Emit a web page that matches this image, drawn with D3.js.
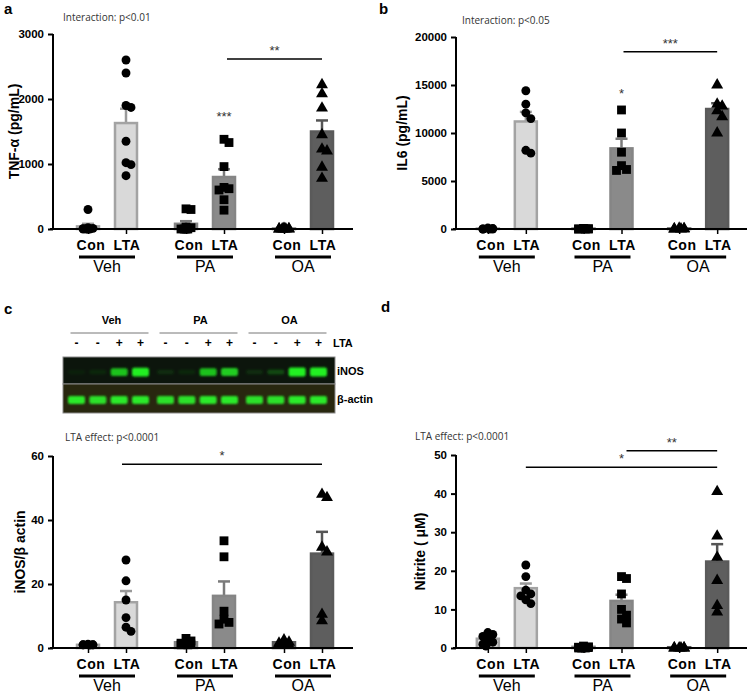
<!DOCTYPE html>
<html><head><meta charset="utf-8">
<script src="https://cdn.jsdelivr.net/npm/d3@7"></script>
<style>body{margin:0;background:#fff}svg{display:block}</style>
</head><body>
<script>
// ---------------- DATA ----------------
const groups = ["Veh", "PA", "OA"];
const treatments = ["Con", "LTA"];

// Panel a: TNF-alpha (pg/mL)
const tnfMeans = [40, 1630, 80, 800, 5, 1500];
const tnfSem = [40, 220, 40, 120, 5, 170];
const tnfPoints = [
  [300, 20, 10, 0, 0, 5, 0, 0],
  [2600, 2400, 1900, 1870, 1350, 1020, 990, 820],
  [310, 300, 30, 20, 0, 0, 0, 0],
  [1380, 1330, 960, 640, 620, 600, 450, 290],
  [10, 5, 0, 0, 0, 0, 0, 0],
  [2220, 2080, 1860, 1450, 1230, 1200, 950, 780]
];
const tnfTicks = [0, 1000, 2000, 3000];

// Panel b: IL6 (pg/mL)
const il6Means = [50, 11200, 50, 8400, 50, 12500];
const il6Sem = [30, 1000, 30, 1000, 30, 600];
const il6Points = [
  [100, 50, 0, 0, 0, 0],
  [14400, 13000, 12100, 11500, 8200, 7900],
  [60, 30, 0, 0, 0, 0],
  [12400, 10000, 8000, 6600, 6200, 6100],
  [80, 40, 0, 0, 0, 0],
  [15000, 13000, 12800, 12300, 11700, 10000]
];
const il6Ticks = [0, 5000, 10000, 15000, 20000];

// Panel c: iNOS / beta actin
const inosMeans = [1, 14.3, 1.8, 16.3, 1.8, 29.5];
const inosSem = [0.2, 3.5, 0.4, 4.5, 0.4, 6.8];
const inosPoints = [
  [1.2, 1, 1, 0.9, 1, 1],
  [27.5, 21, 15, 9.5, 6.5, 5.2],
  [3, 2.2, 1.5, 1.2, 1, 1],
  [33.5, 28.5, 11.5, 9, 8, 7.5],
  [2.5, 1.8, 1.5, 1, 1, 1],
  [48, 47, 31.5, 30, 10.5, 8.5]
];
const inosTicks = [0, 20, 40, 60];

// Panel d: Nitrite (uM)
const nitMeans = [2.4, 15.5, 0.3, 12.2, 0.2, 22.4];
const nitSem = [0.5, 1.2, 0.1, 1.6, 0.1, 4.5];
const nitPoints = [
  [4, 3.5, 3, 2, 1.5, 1, 0.5],
  [21.5, 18.5, 15, 14, 13.5, 12.5, 11.5],
  [0.5, 0.3, 0.2, 0.1, 0, 0, 0],
  [18.5, 18, 14, 10, 8.5, 7.5, 6.5],
  [0, 0, 0, 0, 0, 0],
  [40.5, 29, 23.5, 17.5, 11, 9.3]
];
const nitTicks = [0, 10, 20, 30, 40, 50];

// Western blot (panel c)
const blotLTA = ["-", "-", "+", "+", "-", "-", "+", "+", "-", "-", "+", "+"];
const blotINOS = [0.05, 0.08, 0.75, 0.95, 0.1, 0.08, 0.75, 0.8, 0.1, 0.22, 1, 1];
const blotActin = [0.95, 0.9, 0.95, 0.95, 0.9, 0.9, 0.95, 0.95, 0.9, 0.9, 0.95, 0.95];

// ---------------- DRAW ----------------
const W = 749, H = 695;
const svg = d3.select("body").append("svg").attr("width", W).attr("height", H);
const FONT = "'Liberation Sans', Arial, sans-serif";

const fills = {Veh: "#d9d9d9", PA: "#8a8a8a", OA: "#5e5e5e"};
const strokes = {Veh: "#a3a3a3", PA: "#858585", OA: "#5a5a5a"};
const errCol = {Veh: "#9a9a9a", PA: "#7a7a7a", OA: "#555"};
const shapes = {Veh: d3.symbolCircle, PA: d3.symbolSquare, OA: d3.symbolTriangle};
const shapeSize = {Veh: 62, PA: 78, OA: 62};

function panel(cfg) {
  const g = svg.append("g");
  const y = d3.scaleLinear().domain([0, cfg.max]).range([cfg.y0, cfg.yTop]);
  const gx = d3.scaleBand().domain(groups).range(cfg.xr).padding(0);
  const tx = d3.scalePoint().domain(treatments).range([-19, 19]);
  const cx = (gi, ti) => gx(groups[gi]) + gx.bandwidth() / 2 + tx(treatments[ti]);
  const bw = 22;

  const bars = [];
  groups.forEach((gname, gi) => treatments.forEach((t, ti) => {
    const k = gi * 2 + ti;
    bars.push({g: gname, t, x: cx(gi, ti), mean: cfg.means[k], sem: cfg.sem[k], pts: cfg.points[k]});
  }));

  // error bars (behind bars)
  bars.forEach(b => {
    g.append("line").attr("x1", b.x).attr("x2", b.x)
      .attr("y1", y(b.mean)).attr("y2", y(b.mean + b.sem))
      .attr("stroke", errCol[b.g]).attr("stroke-width", 2.5);
    g.append("line").attr("x1", b.x - 6).attr("x2", b.x + 6)
      .attr("y1", y(b.mean + b.sem)).attr("y2", y(b.mean + b.sem))
      .attr("stroke", errCol[b.g]).attr("stroke-width", 2.5);
  });
  // bars
  g.selectAll("rect.bar").data(bars).join("rect").attr("class", "bar")
    .attr("x", d => d.x - bw / 2).attr("width", bw)
    .attr("y", d => y(d.mean)).attr("height", d => Math.max(0, y(0) - y(d.mean)))
    .attr("fill", d => fills[d.g]).attr("stroke", d => strokes[d.g]).attr("stroke-width", 2.5);

  // points with deterministic (tight) dodge
  bars.forEach(b => {
    const placed = [];
    const offs = [0, 5, -5, 8, -8, 3, -3];
    b.pts.slice().sort((p, q) => q - p).forEach((v, i) => {
      const py = y(v);
      let ox = offs[i % offs.length] * 0.6;
      for (const o of offs) {
        if (placed.every(p => Math.abs(p.y - py) >= 6 || Math.abs(p.x - o) >= 5)) { ox = o; break; }
      }
      placed.push({x: ox, y: py});
      g.append("path").attr("d", d3.symbol().type(shapes[b.g]).size(shapeSize[b.g])())
        .attr("transform", `translate(${b.x + ox},${py})`).attr("fill", "#000");
    });
  });

  // axes
  const yAxis = d3.axisLeft(y).tickValues(cfg.ticks).tickSize(5).tickFormat(d3.format("d"));
  const ya = g.append("g").attr("transform", `translate(${cfg.axisX},0)`).call(yAxis);
  ya.select(".domain").attr("stroke-width", 2).attr("d", `M0,${cfg.y0}V${cfg.yTop}`);
  ya.selectAll(".tick line").attr("stroke-width", 2);
  ya.selectAll(".tick text").attr("font-family", FONT).attr("font-weight", "bold")
    .attr("font-size", 11.5).attr("fill", "#000").attr("dx", -1);

  const xAxis = d3.axisBottom(d3.scaleLinear().domain([cfg.axisX - 3, cfg.xEnd]).range([cfg.axisX - 3, cfg.xEnd]))
    .tickValues(bars.map(b => b.x)).tickSize(5).tickFormat("");
  const xa = g.append("g").attr("transform", `translate(0,${cfg.y0})`).call(xAxis);
  xa.select(".domain").attr("stroke-width", 2).attr("d", `M${cfg.axisX - 3},0H${cfg.xEnd}`);
  xa.selectAll(".tick line").attr("stroke-width", 1.5);

  // category labels
  bars.forEach(b => {
    g.append("text").attr("x", b.x + (b.t === "Con" ? 3 : 1)).attr("y", cfg.y0 + 21)
      .attr("text-anchor", "middle").attr("font-family", FONT).attr("font-weight", "bold")
      .attr("font-size", 14).attr("letter-spacing", 0.6).text(b.t);
  });
  groups.forEach((gname, gi) => {
    const c = gx(gname) + gx.bandwidth() / 2;
    g.append("line").attr("x1", c - 28).attr("x2", c + 28)
      .attr("y1", cfg.y0 + 28).attr("y2", cfg.y0 + 28).attr("stroke", "#000").attr("stroke-width", 3);
    g.append("text").attr("x", c).attr("y", cfg.y0 + 43).attr("text-anchor", "middle")
      .attr("font-family", FONT).attr("font-size", 16).text(gname);
  });

  // y title
  g.append("text").attr("transform", `translate(${cfg.titleX},${(cfg.y0 + cfg.yTop) / 2}) rotate(-90)`)
    .attr("text-anchor", "middle").attr("dominant-baseline", "central")
    .attr("font-family", FONT).attr("font-weight", "bold").attr("font-size", 14).text(cfg.title);

  // p text
  g.append("text").attr("x", cfg.pX).attr("y", cfg.pY).attr("font-family", "'Open Sans', sans-serif")
    .attr("font-size", 10).attr("fill", "#333").text(cfg.pText);

  // panel letter
  g.append("text").attr("x", cfg.letterX).attr("y", cfg.letterY).attr("font-family", FONT)
    .attr("font-weight", "bold").attr("font-size", 15).text(cfg.letter);

  // significance
  const barX = (gn, tn) => bars.find(b => b.g === gn && b.t === tn).x;
  (cfg.sigLines || []).forEach(s => {
    const x1 = barX(s.from[0], s.from[1]) + (s.dx1 || 0), x2 = barX(s.to[0], s.to[1]);
    g.append("line").attr("x1", x1).attr("x2", x2).attr("y1", y(s.v)).attr("y2", y(s.v))
      .attr("stroke", "#000").attr("stroke-width", 1.5);
    g.append("text").attr("x", (x1 + x2) / 2).attr("y", y(s.v) - 4).attr("text-anchor", "middle")
      .attr("font-family", FONT).attr("font-size", 13).attr("fill", "#333").text(s.label);
  });
  (cfg.sigMarks || []).forEach(s => {
    g.append("text").attr("x", barX(s.at[0], s.at[1])).attr("y", y(s.v)).attr("text-anchor", "middle")
      .attr("font-family", FONT).attr("font-size", 13).attr("fill", "#333").text(s.label);
  });
}

panel({letter: "a", letterX: 4, letterY: 14, axisX: 53, xEnd: 353, xr: [58, 352], y0: 229, yTop: 34, max: 3000,
  ticks: tnfTicks, means: tnfMeans, sem: tnfSem, points: tnfPoints, title: "TNF-α (pg/mL)", titleX: 14,
  pText: "Interaction: p<0.01", pX: 63, pY: 21,
  sigLines: [{from: ["PA", "LTA"], to: ["OA", "LTA"], v: 2614, label: "**", dx1: 3}],
  sigMarks: [{at: ["PA", "LTA"], v: 1660, label: "***"}]});

panel({letter: "b", letterX: 379, letterY: 14, axisX: 456, xEnd: 747, xr: [459, 746], y0: 229, yTop: 37, max: 20000,
  ticks: il6Ticks, means: il6Means, sem: il6Sem, points: il6Points, title: "IL6 (pg/mL)", titleX: 402,
  pText: "Interaction: p<0.05", pX: 462, pY: 24,
  sigLines: [{from: ["PA", "LTA"], to: ["OA", "LTA"], v: 18470, label: "***", dx1: 2}],
  sigMarks: [{at: ["PA", "LTA"], v: 13600, label: "*"}]});

panel({letter: "c", letterX: 4, letterY: 314, axisX: 53, xEnd: 353, xr: [58, 352], y0: 648, yTop: 456, max: 60,
  ticks: inosTicks, means: inosMeans, sem: inosSem, points: inosPoints, title: "iNOS/β actin", titleX: 20,
  pText: "LTA effect: p<0.0001", pX: 65, pY: 441,
  sigLines: [{from: ["Veh", "LTA"], to: ["OA", "LTA"], v: 57.4, label: "*", dx1: -4}]});

panel({letter: "d", letterX: 381, letterY: 312, axisX: 456, xEnd: 747, xr: [459, 746], y0: 648, yTop: 455, max: 50,
  ticks: nitTicks, means: nitMeans, sem: nitSem, points: nitPoints, title: "Nitrite ( μM)", titleX: 420,
  pText: "LTA effect: p<0.0001", pX: 415, pY: 440,
  sigLines: [{from: ["Veh", "LTA"], to: ["OA", "LTA"], v: 46.8, label: "*"},
             {from: ["PA", "LTA"], to: ["OA", "LTA"], v: 51.1, label: "**", dx1: 5}]});

// ---------------- WESTERN BLOT ----------------
(function blot() {
  const g = svg.append("g");
  const defs = svg.append("defs");
  defs.append("filter").attr("id", "blur").attr("x", "-30%").attr("y", "-60%").attr("width", "160%").attr("height", "220%")
    .append("feGaussianBlur").attr("stdDeviation", 1.1);
  const bx0 = 63, bx1 = 335, iTop = 357, iBot = 384, aBot = 413;
  const gb = d3.scaleBand().domain(groups).range([64, 331]);
  const lane = d3.scalePoint().domain([0, 1, 2, 3]).range([-32, 32]);
  const laneX = i => gb(groups[Math.floor(i / 4)]) + gb.bandwidth() / 2 + lane(i % 4);

  groups.forEach(gn => {
    const c = gb(gn) + gb.bandwidth() / 2;
    g.append("text").attr("x", c + 3).attr("y", 324).attr("text-anchor", "middle").attr("font-family", FONT)
      .attr("font-weight", "bold").attr("font-size", 11).text(gn);
    g.append("line").attr("x1", c - 38).attr("x2", c + 40).attr("y1", 333).attr("y2", 333)
      .attr("stroke", "#777").attr("stroke-width", 1);
  });
  blotLTA.forEach((s, i) => {
    g.append("text").attr("x", laneX(i)).attr("y", 347).attr("text-anchor", "middle").attr("font-family", FONT)
      .attr("font-weight", "bold").attr("font-size", 12).text(s);
  });
  g.append("text").attr("x", 333).attr("y", 347).attr("font-family", FONT).attr("font-weight", "bold")
    .attr("font-size", 11).text("LTA");

  g.append("rect").attr("x", bx0).attr("y", iTop).attr("width", bx1 - bx0).attr("height", iBot - iTop)
    .attr("fill", "#0c150c").attr("stroke", "#8a8a8a");
  g.append("rect").attr("x", bx0).attr("y", iBot).attr("width", bx1 - bx0).attr("height", aBot - iBot)
    .attr("fill", "#28270f").attr("stroke", "#8a8a8a");

  const bands = g.append("g").attr("filter", "url(#blur)");
  blotINOS.forEach((v, i) => {
    const h = 4 + v * 5;
    bands.append("rect").attr("x", laneX(i) - 8.5).attr("y", 372 - h / 2).attr("width", 17).attr("height", h)
      .attr("rx", 2).attr("fill", "#22f022").attr("opacity", Math.min(1, v * 1.05));
  });
  blotActin.forEach((v, i) => {
    const h = 8;
    bands.append("rect").attr("x", laneX(i) - 8.5).attr("y", 400 - h / 2).attr("width", 17).attr("height", h)
      .attr("rx", 2).attr("fill", "#2cf42c").attr("opacity", v);
  });

  g.append("text").attr("x", 337).attr("y", 375).attr("font-family", FONT).attr("font-weight", "bold")
    .attr("font-size", 11).text("iNOS");
  g.append("text").attr("x", 337).attr("y", 403).attr("font-family", FONT).attr("font-weight", "bold")
    .attr("font-size", 11).text("β-actin");
})();
</script>
</body></html>
